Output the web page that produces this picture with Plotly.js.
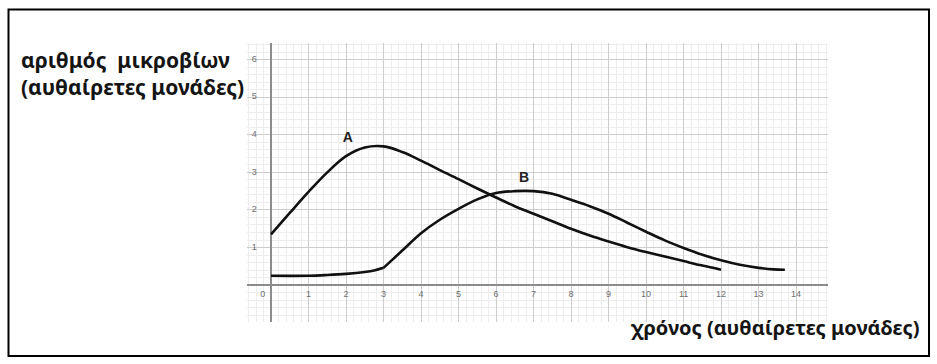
<!DOCTYPE html>
<html>
<head>
<meta charset="utf-8">
<script src="https://cdn.plot.ly/plotly-3.0.1.min.js"></script>
<style>
  html, body { margin: 0; padding: 0; background: #fff; }
  #chart { width: 937px; height: 364px; }
</style>
</head>
<body>
<div id="chart"></div>
<script>
// Microbe count over time (arbitrary units), two populations A and B
const timeA  = [0, 0.5, 1, 1.5, 2, 2.5, 3, 3.5, 4, 4.5, 5, 5.5, 6, 6.5, 7, 7.5, 8, 8.5, 9, 9.5, 10, 10.5, 11, 11.5, 12];
const countA = [1.35, 1.92, 2.48, 3.0, 3.43, 3.66, 3.69, 3.54, 3.31, 3.06, 2.82, 2.57, 2.33, 2.1, 1.9, 1.7, 1.5, 1.32, 1.16, 1.01, 0.88, 0.76, 0.64, 0.52, 0.41];

// B: flat lag phase up to t = 3, then growth and decline
const timeBLag  = [0, 1, 1.5, 2, 2.5, 2.75, 3];
const countBLag = [0.25, 0.25, 0.27, 0.3, 0.35, 0.39, 0.46];
const timeB  = [3, 3.5, 4, 4.5, 5, 5.5, 6, 6.5, 7, 7.5, 8, 8.5, 9, 9.5, 10, 10.5, 11, 11.5, 12, 12.5, 13, 13.4, 13.7];
const countB = [0.46, 0.92, 1.38, 1.74, 2.03, 2.28, 2.45, 2.5, 2.5, 2.43, 2.27, 2.1, 1.9, 1.66, 1.42, 1.19, 0.99, 0.81, 0.66, 0.54, 0.46, 0.42, 0.41];

const xTickVals = [0, 1, 2, 3, 4, 5, 6, 7, 8, 9, 10, 11, 12, 13, 14];
const yTickVals = [1, 2, 3, 4, 5, 6];

const curveLabels = ['A', 'B'];
const curveLabelX = [2.05, 6.75];
const curveLabelY = [3.9, 2.83];

const yTitle = 'αριθμός  μικροβίων<br>(αυθαίρετες μονάδες)';
const xTitle = 'χρόνος (αυθαίρετες μονάδες)';

// plot area in pixels
const W = 937, H = 364;
const M = { l: 247, r: 109, t: 43, b: 42 };
const plotW = W - M.l - M.r, plotH = H - M.t - M.b;
const px = x => (x - M.l) / plotW;
const py = y => 1 - (y - M.t) / plotH;

const curveLine = { color: '#111', width: 2.6, shape: 'spline', smoothing: 1 };
const tickFont = { family: 'Liberation Sans, Arial, sans-serif', size: 9, color: '#707070' };

const traces = [
  { x: timeA, y: countA, mode: 'lines', line: curveLine, hoverinfo: 'skip' },
  { x: timeBLag, y: countBLag, mode: 'lines', line: curveLine, hoverinfo: 'skip' },
  { x: timeB, y: countB, mode: 'lines', line: curveLine, hoverinfo: 'skip' },
  // tick numbers sit inside the grid, next to the axes
  {
    x: xTickVals.map(v => v === 0 ? -0.22 : v),
    y: xTickVals.map(() => -0.25),
    text: xTickVals.map(String),
    mode: 'text', textfont: tickFont, hoverinfo: 'skip', cliponaxis: false
  },
  {
    x: yTickVals.map(() => -0.38),
    y: yTickVals,
    text: yTickVals.map(String),
    mode: 'text', textposition: 'middle left', textfont: tickFont, hoverinfo: 'skip', cliponaxis: false
  },
  {
    x: curveLabelX, y: curveLabelY, text: curveLabels,
    mode: 'text', hoverinfo: 'skip',
    textfont: { family: 'Liberation Sans, Arial, sans-serif', size: 14, color: '#222', weight: 'bold' }
  }
];

const axisCommon = {
  dtick: 1, tick0: 0,
  showgrid: true, gridcolor: '#cdcdcd', gridwidth: 1,
  minor: { dtick: 0.2, showgrid: true, gridcolor: '#ededed', gridwidth: 1 },
  zeroline: true, zerolinecolor: '#8c8c8c', zerolinewidth: 1.6,
  showticklabels: false, ticks: '', showline: false, fixedrange: true
};

const titleFont = { family: 'Noto Sans, Open Sans, sans-serif', size: 20, color: '#141414', weight: 'bold' };

const layout = {
  width: W, height: H, margin: M,
  paper_bgcolor: '#fff', plot_bgcolor: '#fff',
  showlegend: false,
  xaxis: Object.assign({ range: [-0.64, 14.85] }, axisCommon),
  yaxis: Object.assign({ range: [-0.98, 6.44] }, axisCommon),
  annotations: [
    { xref: 'paper', yref: 'paper', x: px(19), y: py(73), xanchor: 'left', yanchor: 'middle',
      text: yTitle, align: 'left', showarrow: false, font: Object.assign({}, titleFont, { size: 21 }) },
    { xref: 'paper', yref: 'paper', x: px(629), y: py(327), xanchor: 'left', yanchor: 'middle',
      text: xTitle, showarrow: false, font: titleFont }
  ],
  shapes: [
    { type: 'rect', xref: 'paper', yref: 'paper', layer: 'above',
      x0: px(8.5), x1: px(929), y0: py(356), y1: py(9.5),
      line: { color: '#000', width: 2 } }
  ]
};

Plotly.newPlot('chart', traces, layout, { displayModeBar: false, staticPlot: true });
</script>
</body>
</html>
